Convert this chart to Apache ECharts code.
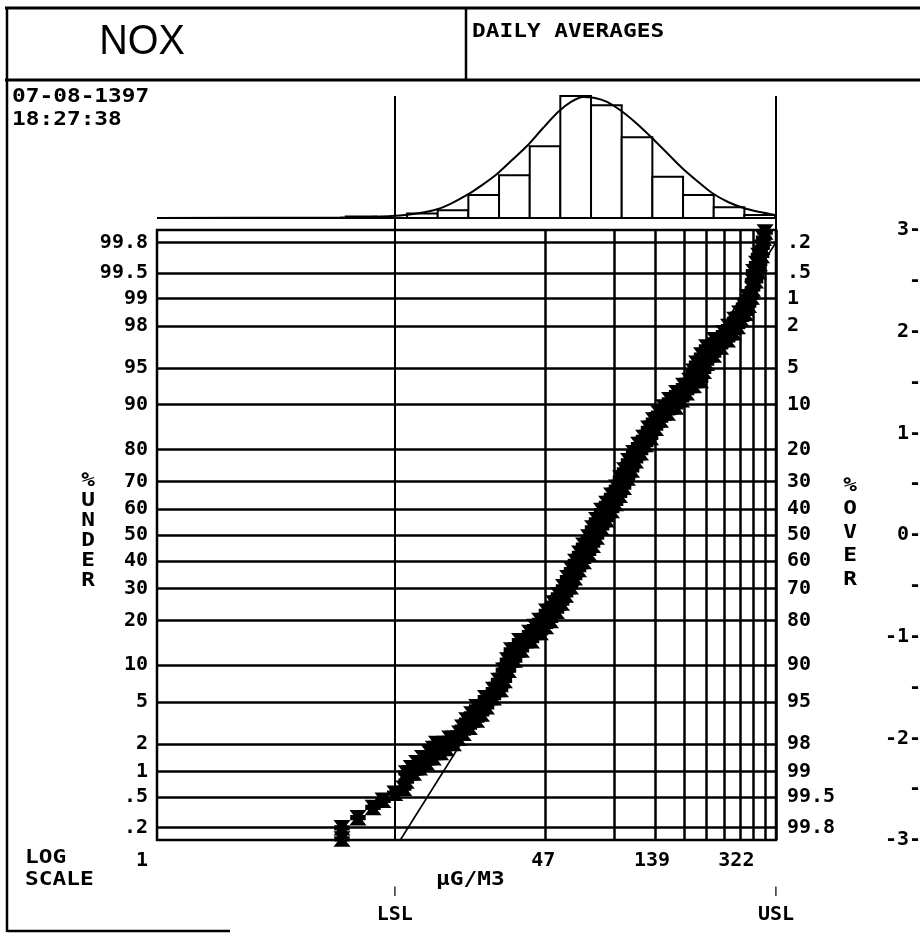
<!DOCTYPE html>
<html><head><meta charset="utf-8">
<script src="https://cdn.jsdelivr.net/npm/echarts@6/dist/echarts.min.js"></script>
<style>html,body{margin:0;padding:0;background:#fff}#c{width:920px;height:936px}</style>
</head><body><div id="c"></div>
<script>
// ---------- data ----------
const probTicks   = [0.2, 0.5, 1, 2, 5, 10, 20, 30, 40, 50, 60, 70, 80, 90, 95, 98, 99, 99.5, 99.8];
const underLabels = ['.2','.5','1','2','5','10','20','30','40','50','60','70','80','90','95','98','99','99.5','99.8'];
const overLabels  = ['99.8','99.5','99','98','95','90','80','70','60','50','40','30','20','10','5','2','1','.5','.2'];
const zTicks  = [-3, -2.5, -2, -1.5, -1, -0.5, 0, 0.5, 1, 1.5, 2, 2.5, 3];
const zLabels = ['-3-','-','-2-','-','-1-','-','0-','-','1-','-','2-','-','3-'];
const xLabelValues = [1, 47, 139, 322];
const xLabelTexts  = ['1', '47', '139', '322'];
const xGridValues  = [47.8, 95.6, 143.4, 191.2, 239, 286.8, 334.6, 382.4, 430.2, 478];
const xMin = 1, xMax = 478;
const LSL = 10.7, USL = 478;
const specValues = [LSL, USL];
const specLabels = ['LSL', 'USL'];
const binEdges  = [6.56, 8.90, 12.09, 16.41, 22.27, 30.24, 41.06, 55.70, 75.64, 102.7, 139.4, 189.3, 257.0, 348.7, 473.5];
const binCounts = [1, 0, 3, 5, 15, 28, 47, 80, 74, 53, 27, 15, 7, 2];
const curveX = [1, 6.2, 8.36, 11.27, 13.76, 16.46, 18.92, 21.98, 25.52, 29.64, 34.42, 40.37, 46.88, 54.44, 61.97, 69.84, 78.72, 88.71, 101.0, 118.5, 138.9, 161.4, 187.4, 217.7, 252.7, 296.4, 351.1, 407.8, 473.6];
const curveY = [0, 0.3, 0.7, 1.6, 3.3, 5.9, 9.8, 15.1, 21.6, 28.9, 38.0, 47.9, 59.0, 69.5, 76.1, 79.3, 78.7, 76.1, 70.8, 62.3, 52.5, 42.6, 32.8, 24.3, 16.4, 10.5, 6.2, 3.9, 2.0];
const fitValue = [11.3, 478];
const fitZ     = [-3.0, 2.88];
// daily averages: [ug/m3, normal score]
const bandPoints = [
 [6.32,-2.99],[6.32,-2.88],[7.41,-2.78],[8.61,-2.68],[9.51,-2.61],[10.7,-2.54],[11.7,-2.49],[12.0,-2.42],
 [12.0,-2.34],[12.4,-2.34],[12.9,-2.34],[12.6,-2.29],[13.1,-2.29],[13.7,-2.29],[13.3,-2.24],[14.0,-2.24],[14.7,-2.24],
 [14.1,-2.19],[14.9,-2.19],[15.7,-2.19],[15.1,-2.14],[16.0,-2.14],[16.9,-2.14],[15.7,-2.10],[16.8,-2.10],[17.9,-2.10],
 [16.2,-2.05],[17.6,-2.05],[19.2,-2.05],[18.5,-2.00],[19.3,-2.00],[20.2,-2.00],[20.4,-1.95],[21.2,-1.95],
 [21.0,-1.89],[21.7,-1.89],[22.5,-1.89],[21.9,-1.82],[23.0,-1.82],[24.2,-1.82],[23.0,-1.76],[24.2,-1.76],[25.4,-1.76],
 [24.2,-1.69],[25.4,-1.69],[26.7,-1.69],[26.4,-1.60],[27.5,-1.60],[28.6,-1.60],[28.6,-1.52],[29.6,-1.52],[30.7,-1.52],
 [30.1,-1.43],[31.0,-1.43],[31.9,-1.43],[31.6,-1.33],[32.4,-1.33],[33.2,-1.33],[32.9,-1.23],[34.1,-1.23],[35.3,-1.23],
 [34.2,-1.13],[36.0,-1.13],[37.8,-1.13],[37.1,-1.04],[39.4,-1.04],[41.8,-1.04],[41.0,-0.96],[43.3,-0.96],[45.7,-0.96],
 [43.1,-0.90],[45.5,-0.90],[48.1,-0.90],[45.3,-0.84],[47.8,-0.84],[50.5,-0.84],[48.5,-0.75],[51.0,-0.75],[53.6,-0.75],
 [52.1,-0.67],[54.2,-0.67],[56.4,-0.67],[54.7,-0.59],[56.7,-0.59],[58.7,-0.59],[57.5,-0.51],[59.6,-0.51],[61.7,-0.51],
 [59.9,-0.42],[62.0,-0.42],[64.2,-0.42],[62.3,-0.34],[64.5,-0.34],[66.8,-0.34],[64.8,-0.26],[67.4,-0.26],[70.2,-0.26],
 [67.5,-0.18],[70.6,-0.18],[73.8,-0.18],[70.2,-0.10],[73.4,-0.10],[76.8,-0.10],[73.8,-0.02],[76.8,-0.02],[79.9,-0.02],
 [76.8,0.07],[80.3,0.07],[84.0,0.07],[79.9,0.15],[84.0,0.15],[88.3,0.15],[84.0,0.24],[88.3,0.24],[92.8,0.24],
 [88.3,0.31],[92.4,0.31],[96.6,0.31],[92.8,0.39],[96.6,0.39],[100.5,0.39],[97.5,0.47],[101.0,0.47],[104.6,0.47],
 [101.5,0.56],[105.1,0.56],[108.8,0.56],[105.6,0.64],[109.4,0.64],[113.3,0.64],[109.9,0.73],[113.8,0.73],[117.9,0.73],
 [115.6,0.81],[119.7,0.81],[123.9,0.81],[121.5,0.89],[125.8,0.89],[130.3,0.89],[127.7,0.96],[132.2,0.96],[136.9,0.96],
 [134.2,1.05],[139.0,1.05],[143.9,1.05],[141.0,1.13],[146.1,1.13],[151.3,1.13],[148.3,1.20],[155.1,1.20],[162.2,1.20],
 [155.8,1.26],[165.5,1.26],[175.7,1.26],[165.4,1.33],[175.6,1.33],[186.5,1.33],[177.4,1.40],[186.5,1.40],[196.0,1.40],
 [190.2,1.47],[200.0,1.47],[210.2,1.47],[201.9,1.52],[213.3,1.52],[225.3,1.52],[210.2,1.61],[220.9,1.61],[232.2,1.61],
 [216.6,1.69],[227.6,1.69],[239.2,1.69],[227.6,1.77],[241.6,1.77],[256.5,1.77],[239.2,1.85],[256.5,1.85],[275.1,1.85],
 [259.1,1.92],[276.5,1.92],[295.0,1.92],[283.4,1.99],[297.9,1.99],[313.1,1.99],[297.9,2.05],[311.6,2.05],[325.9,2.05],
 [316.3,2.12],[327.5,2.12],[339.1,2.12],[332.4,2.18],[342.5,2.18],[352.9,2.18],[346.0,2.26],[354.7,2.26],[363.7,2.26],
 [360.1,2.34],[367.3,2.34],[374.7,2.34],
 [378.4,2.42],[378.4,2.50],[389.9,2.50],[382.2,2.59],[401.8,2.59],[393.8,2.67],[405.8,2.67],
 [401.8,2.75],[414.0,2.75],[416.0,2.83],[422.3,2.92],[428.6,2.98]
];

// ---------- helpers ----------
function probit(p){
  const a=[-3.969683028665376e+01,2.209460984245205e+02,-2.759285104469687e+02,1.383577518672690e+02,-3.066479806614716e+01,2.506628277459239e+00];
  const b=[-5.447609879822406e+01,1.615858368580409e+02,-1.556989798598866e+02,6.680131188771972e+01,-1.328068155288572e+01];
  const c=[-7.784894002430293e-03,-3.223964580411365e-01,-2.400758277161838e+00,-2.549732539343734e+00,4.374664141464968e+00,2.938163982698783e+00];
  const d=[7.784695709041462e-03,3.224671290700398e-01,2.445134137142996e+00,3.754408661907416e+00];
  const pl=0.02425; let q,r;
  if(p<pl){q=Math.sqrt(-2*Math.log(p));return (((((c[0]*q+c[1])*q+c[2])*q+c[3])*q+c[4])*q+c[5])/((((d[0]*q+d[1])*q+d[2])*q+d[3])*q+1);}
  if(p<=1-pl){q=p-0.5;r=q*q;return (((((a[0]*r+a[1])*r+a[2])*r+a[3])*r+a[4])*r+a[5])*q/(((((b[0]*r+b[1])*r+b[2])*r+b[3])*r+b[4])*r+1);}
  q=Math.sqrt(-2*Math.log(1-p));return -(((((c[0]*q+c[1])*q+c[2])*q+c[3])*q+c[4])*q+c[5])/((((d[0]*q+d[1])*q+d[2])*q+d[3])*q+1);
}
const probZ = probTicks.map(p => probit(p/100));
function nearest(list, v){ let bi=0, bd=Infinity; list.forEach((x,i)=>{const dd=Math.abs(Math.log(x)-Math.log(v)); if(dd<bd){bd=dd;bi=i;}}); return bi; }
function nearestLin(list, v){ let bi=0, bd=Infinity; list.forEach((x,i)=>{const dd=Math.abs(x-v); if(dd<bd){bd=dd;bi=i;}}); return bi; }

const MONO = '"DejaVu Sans Mono", monospace';
const lbl = {color:'#000', fontFamily:MONO, fontWeight:'bold', fontSize:20};

const histData = binCounts.map((c,i)=>[binEdges[i], binEdges[i+1], c]).filter(d=>d[2]>0);

function T(text, x, y, extra){
  return Object.assign({type:'text', x:x, y:y, scaleX:1.14, silent:true,
    style:Object.assign({text:text, x:0, y:0, fill:'#000', fontFamily:MONO, fontWeight:'bold', fontSize:20, align:'left', verticalAlign:'top'}, (extra&&extra.style)||{})},
    extra&&extra.el||{});
}
function L(x1,y1,x2,y2,w){ return {type:'line', silent:true, shape:{x1,y1,x2,y2}, style:{stroke:'#000', lineWidth:w||2.5}}; }

const MARK = 'path://M-6,-6L6,-6L2.6,-1.6L6,-1.6L6,1.6L2.6,1.6L6,6L-6,6L-2.6,1.6L-6,1.6L-6,-1.6L-2.6,-1.6Z';

const option = {
  animation:false,
  backgroundColor:'#fff',
  grid:[
    {left:157, right:144, top:96, height:134, show:false, containLabel:false, outerBoundsMode:'none'},
    {left:157, right:144, top:230, height:610, show:true, borderColor:'#000', borderWidth:2.5, backgroundColor:'rgba(0,0,0,0)', containLabel:false, outerBoundsMode:'none'}
  ],
  xAxis:[
    {gridIndex:0, type:'log', logBase:10, min:xMin, max:xMax, axisLine:{show:false}, axisTick:{show:false}, axisLabel:{show:false}, splitLine:{show:false}},
    {gridIndex:1, type:'log', logBase:10, min:xMin, max:xMax, position:'bottom',
      axisLine:{show:false}, axisTick:{show:false, customValues:xGridValues},
      splitLine:{show:true, lineStyle:{color:'#000', width:2.5}},
      axisLabel:Object.assign({customValues:xLabelValues, margin:11,
        formatter:(v)=>{const i=nearest(xLabelValues,v); return i===0?'{s|'+xLabelTexts[i]+'}':xLabelTexts[i];},
        rich:{s:{color:'#000', fontFamily:MONO, fontWeight:'bold', fontSize:20, padding:[0,30,0,0]}}}, lbl)},
    {gridIndex:1, type:'log', logBase:10, min:xMin, max:xMax, position:'bottom', offset:47,
      axisLine:{show:false}, splitLine:{show:false}, axisTick:{show:false},
      axisLabel:Object.assign({customValues:specValues, margin:0,
        formatter:(v)=>'{t|\u2503}\n{l|'+specLabels[nearest(specValues,v)]+'}',
        rich:{
          t:{color:'#000', fontFamily:MONO, fontWeight:'bold', fontSize:8, lineHeight:9, align:'center'},
          l:{color:'#000', fontFamily:MONO, fontWeight:'bold', fontSize:20, lineHeight:38, align:'center'}
        }}, lbl)}
  ],
  yAxis:[
    {gridIndex:0, type:'value', min:-7.87, max:80, show:false},
    {gridIndex:1, type:'value', min:-3, max:3, position:'left',
      axisLine:{show:false}, axisTick:{show:false, customValues:probZ},
      splitLine:{show:true, lineStyle:{color:'#000', width:2.5}},
      axisLabel:Object.assign({customValues:probZ, margin:9, formatter:(v)=>underLabels[nearestLin(probZ,v)]}, lbl)},
    {gridIndex:1, type:'value', min:-3, max:3, position:'right',
      axisLine:{show:false}, axisTick:{show:false}, splitLine:{show:false},
      axisLabel:Object.assign({customValues:probZ, margin:11, formatter:(v)=>overLabels[nearestLin(probZ,v)]}, lbl)},
    {gridIndex:1, type:'value', min:-3, max:3, position:'right', offset:145,
      axisLine:{show:false}, axisTick:{show:false}, splitLine:{show:false},
      axisLabel:Object.assign({customValues:zTicks, inside:true, margin:0, formatter:(v)=>zLabels[nearestLin(zTicks,v)]}, lbl)}
  ],
  series:[
    {type:'custom', name:'histogram', xAxisIndex:0, yAxisIndex:0, z:2,
      data:histData, encode:{x:[0,1], y:2},
      renderItem:(params, api)=>{
        const p0 = api.coord([api.value(0), api.value(2)]);
        const p1 = api.coord([api.value(1), 0]);
        return {type:'rect', shape:{x:p0[0], y:p0[1], width:p1[0]-p0[0], height:p1[1]-p0[1]},
          style:{fill:'#fff', stroke:'#000', lineWidth:2}};
      },
      markLine:{silent:true, symbol:'none', label:{show:false}, lineStyle:{color:'#000', width:2, type:'solid'},
        data:[{xAxis:LSL},{xAxis:USL},{yAxis:0}]}
    },
    {type:'line', name:'normal', xAxisIndex:0, yAxisIndex:0, z:4,
      data:curveX.map((x,i)=>[x, curveY[i]]), smooth:0.25, symbol:'none',
      lineStyle:{color:'#000', width:2}},
    {type:'line', name:'fit', xAxisIndex:1, yAxisIndex:1, z:3,
      data:fitValue.map((x,i)=>[x, fitZ[i]]), symbol:'none', lineStyle:{color:'#000', width:1.6}},
    {type:'scatter', name:'daily', xAxisIndex:1, yAxisIndex:1, z:5,
      data:bandPoints, symbol:MARK, symbolSize:14,
      itemStyle:{color:'#000', borderColor:'#000', borderWidth:1.5, opacity:1},
      markLine:{silent:true, symbol:'none', label:{show:false}, lineStyle:{color:'#000', width:2, type:'solid'},
        data:[{xAxis:LSL}]}
    }
  ],
  graphic:[
    L(5,8,925,8,3), L(5,80,925,80,3), L(466,8,466,80,2.5), L(7,8,7,932,2.5), L(7,931,230,931,2.5),
    {type:'text', x:142, y:42, scaleX:0.92, silent:true, style:{text:'NOX', x:0, y:0, fill:'#000', fontFamily:'"Liberation Sans", sans-serif', fontSize:43, fontWeight:'normal', align:'center', verticalAlign:'middle'}},
    T('DAILY AVERAGES', 472, 22),
    T('07-08-1397', 12, 87),
    T('18:27:38', 12, 110),
    T('LOG', 25, 848),
    T('SCALE', 25, 870),
    T('\u03bcG/M3', 436, 870),
    T('%\nU\nN\nD\nE\nR', 88, 471, {style:{align:'center', lineHeight:20}}),
    T('%\nO\nV\nE\nR', 850, 474, {style:{align:'center', lineHeight:23.5}})
  ]
};
const chart = echarts.init(document.getElementById('c'), null, {renderer:'canvas'});
chart.setOption(option);
</script>
</body></html>
